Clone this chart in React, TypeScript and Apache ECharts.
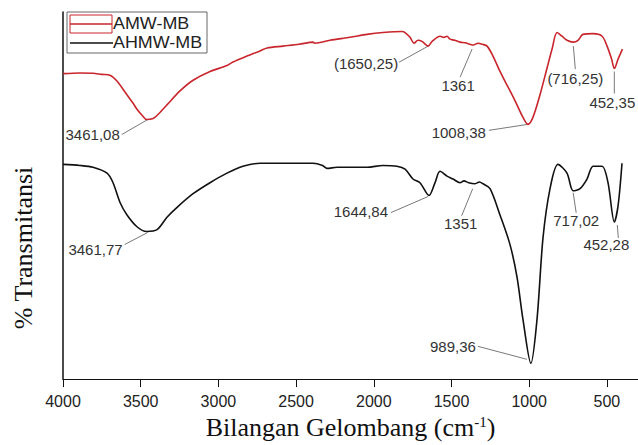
import React, { useEffect, useRef } from "react";
import * as echarts from "echarts";

// FTIR spectra: wavenumber (cm-1) and relative transmittance (%)
const amwWave = [
  4000, 3891, 3807, 3750, 3698, 3653, 3601, 3550, 3524, 3490, 3461.08, 3420, 3395, 3331, 3247, 3163, 3054,
  2945, 2906, 2816, 2732, 2687, 2584, 2480, 2391, 2380, 2282, 2153, 2044, 1941, 1818, 1799, 1767, 1741,
  1716, 1690, 1650.25, 1625, 1574, 1550, 1529, 1510, 1480, 1445, 1410, 1381, 1361, 1329, 1300, 1271, 1233,
  1188, 1143, 1091, 1046, 1008.38, 976, 931, 886, 853, 821, 789, 757, 716.25, 686, 654, 589, 531, 499, 470,
  452.35, 428, 400,
];
const amwT = [
  83.2, 83.4, 83.3, 83.0, 82.8, 81.2, 78.2, 75.2, 73.5, 71.8, 70.7, 71.0, 71.8, 74.7, 78.5, 81.4, 83.8,
  85.4, 86.4, 88.0, 89.4, 90.2, 90.7, 91.2, 91.8, 91.5, 92.3, 93.1, 93.9, 94.4, 94.7, 94.4, 93.1, 91.5,
  92.3, 92.0, 90.7, 92.0, 93.4, 93.1, 93.4, 92.6, 92.3, 91.8, 91.6, 91.2, 91.0, 91.5, 91.2, 90.7, 88.0,
  83.8, 80.1, 75.8, 71.8, 69.4, 71.3, 77.4, 84.6, 89.9, 94.4, 93.4, 92.3, 91.8, 92.3, 93.9, 94.1, 93.4, 90.7, 87.2,
  84.6, 87.2, 89.9,
];

const ahmwWave = [
  4000, 3891, 3807, 3717, 3678, 3633, 3588, 3524, 3461.77, 3395, 3331, 3266, 3163, 3054, 2945, 2842, 2732,
  2584, 2391, 2330, 2301, 2237, 2044, 1941, 1851, 1799, 1748, 1703, 1644.84, 1606, 1574, 1529, 1490, 1445,
  1420, 1390, 1351, 1320, 1297, 1252, 1188, 1124, 1079, 1040, 989.36, 950, 911, 866, 815, 757, 717.02, 673,
  628, 589, 531, 493, 452.28, 428, 403,
];
const ahmwT = [
  58.5, 58.2, 57.7, 56.1, 53.5, 48.1, 44.7, 41.5, 40.2, 40.7, 44.1, 46.8, 50.5, 53.5, 56.1, 58.0, 58.8,
  58.8, 58.8, 58.2, 57.4, 57.7, 57.7, 58.2, 58.0, 57.2, 54.5, 53.5, 50.0, 53.5, 56.6, 55.3, 54.5, 53.5,
  54.0, 53.5, 53.2, 53.7, 53.2, 51.9, 44.7, 36.7, 27.9, 16.2, 4.3, 16.2, 38.6, 51.9, 58.5, 56.1, 51.3, 51.9,
  54.5, 58.0, 58.0, 53.5, 42.8, 47.3, 58.8,
];

// Labelled bands
const amwPeaks = [3461.08, 1650.25, 1361, 1008.38, 716.25, 452.35];
const amwPeakLabels = ["3461,08", "(1650,25)", "1361", "1008,38", "(716,25)", "452,35"];
const ahmwPeaks = [3461.77, 1644.84, 1351, 989.36, 717.02, 452.28];
const ahmwPeakLabels = ["3461,77", "1644,84", "1351", "989,36", "717,02", "452,28"];

const xTicks = [4000, 3500, 3000, 2500, 2000, 1500, 1000, 500];
const seriesNames = ["AMW-MB", "AHMW-MB"];
const yTitle = "% Transmitansi";

const RED = "#c8252c";
const SANS = "'Liberation Sans', Arial, sans-serif";
const SERIF = "'Liberation Serif', 'Times New Roman', serif";

type Note = { a: number[]; b: number[]; t: number[]; al: string };

// leader-line start/end and label anchor, relative to the band's point (px)
const amwNoteLayout: Note[] = [
  { a: [1, 0], b: [-25, 15], t: [-27, 15], al: "right" },
  { a: [0, 0], b: [-29, 16], t: [-30, 17], al: "right" },
  { a: [-1, 4], b: [-13, 32], t: [-15, 40], al: "center" },
  { a: [0, 0], b: [-39, 6], t: [-42, 8], al: "right" },
  { a: [0, 4], b: [2, 27], t: [2, 36], al: "center" },
  { a: [0, 3], b: [0, 25], t: [-2, 34], al: "center" },
];
const ahmwNoteLayout: Note[] = [
  { a: [1, 1], b: [-22, 13], t: [-24, 18], al: "right" },
  { a: [-1, 1], b: [-38, 17], t: [-41, 16], al: "right" },
  { a: [-2, 5], b: [-13, 32], t: [-14, 40], al: "center" },
  { a: [-4, -4], b: [-53, -17], t: [-55, -17], al: "right" },
  { a: [0, 2], b: [3, 22], t: [3, 30], al: "center" },
  { a: [3, 3], b: [4, 16], t: [-8, 23], al: "center" },
];

const zip = (w: number[], t: number[]) => w.map((x, i) => [x, t[i]]);

export default function App() {
  const ref = useRef<HTMLDivElement>(null);

  useEffect(() => {
    if (!ref.current) return;
    const chart = echarts.init(ref.current, null, { renderer: "svg" });

    chart.setOption({
      animation: false,
      grid: { left: 63, right: 0, top: 12, bottom: 57 },
      xAxis: {
        type: "value",
        inverse: true,
        min: 300,
        max: 4000,
        name: "Bilangan Gelombang (cm{sup|-1})",
        nameLocation: "middle",
        nameGap: 27,
        nameTextStyle: {
          fontFamily: SERIF,
          fontSize: 26,
          color: "#111",
          rich: { sup: { fontFamily: SERIF, fontSize: 15, verticalAlign: "top", color: "#111" } },
        },
        axisLine: { show: true, lineStyle: { color: "#111", width: 1 } },
        axisTick: { show: true, length: 8, customValues: xTicks, lineStyle: { color: "#111" } },
        axisLabel: {
          show: true,
          customValues: xTicks,
          formatter: (v: number) => String(v),
          fontSize: 16,
          fontFamily: SANS,
          color: "#222",
          margin: 14,
        },
        splitLine: { show: false },
      },
      yAxis: {
        type: "value",
        min: 0,
        max: 100,
        axisLine: { show: true, lineStyle: { color: "#111", width: 1.5 } },
        axisTick: { show: false },
        axisLabel: { show: false },
        splitLine: { show: false },
      },
      series: [
        {
          name: seriesNames[0],
          type: "line",
          data: zip(amwWave, amwT),
          showSymbol: false,
          smooth: 0.3,
          lineStyle: { color: RED, width: 1.6 },
          itemStyle: { color: RED },
        },
        {
          name: seriesNames[1],
          type: "line",
          data: zip(ahmwWave, ahmwT),
          showSymbol: false,
          smooth: 0.3,
          lineStyle: { color: "#111", width: 1.6 },
          itemStyle: { color: "#111" },
        },
      ],
    });

    const elements: any[] = [];
    const addNotes = (waves: number[], ts: number[], peaks: number[], labels: string[], layout: Note[]) => {
      peaks.forEach((wn, i) => {
        const t = ts[waves.indexOf(wn)];
        const [px, py] = chart.convertToPixel({ gridIndex: 0 }, [wn, t]) as number[];
        const L = layout[i];
        elements.push({
          type: "line",
          shape: { x1: px + L.a[0], y1: py + L.a[1], x2: px + L.b[0], y2: py + L.b[1] },
          style: { stroke: "#555", lineWidth: 0.8 },
        });
        elements.push({
          type: "text",
          x: px + L.t[0],
          y: py + L.t[1],
          style: {
            text: labels[i],
            align: L.al,
            verticalAlign: "middle",
            fontSize: 15,
            fontFamily: SANS,
            fill: "#333",
          },
        });
      });
    };
    addNotes(amwWave, amwT, amwPeaks, amwPeakLabels, amwNoteLayout);
    addNotes(ahmwWave, ahmwT, ahmwPeaks, ahmwPeakLabels, ahmwNoteLayout);

    // y-axis title, set a little below the plot's middle
    elements.push({
      type: "text",
      x: 23,
      y: 248,
      rotation: Math.PI / 2,
      style: { text: yTitle, fontSize: 26, fontFamily: SERIF, fill: "#111", align: "center", verticalAlign: "middle" },
    });

    // legend box
    elements.push(
      { type: "rect", shape: { x: 67, y: 12, width: 140, height: 41 }, style: { fill: "#fff", stroke: "#666", lineWidth: 1 } },
      { type: "rect", shape: { x: 70, y: 15, width: 42, height: 18 }, style: { fill: "none", stroke: RED, lineWidth: 1 } },
      { type: "line", shape: { x1: 70, y1: 24, x2: 112, y2: 24 }, style: { stroke: RED, lineWidth: 1.6 } },
      { type: "line", shape: { x1: 70, y1: 43, x2: 113, y2: 43 }, style: { stroke: "#111", lineWidth: 1.6 } },
      {
        type: "text", x: 113, y: 24, scaleX: 1.12,
        style: { text: seriesNames[0], fontSize: 16, fontFamily: SANS, fill: "#222", align: "left", verticalAlign: "middle" },
      },
      {
        type: "text", x: 113, y: 43, scaleX: 1.12,
        style: { text: seriesNames[1], fontSize: 16, fontFamily: SANS, fill: "#222", align: "left", verticalAlign: "middle" },
      },
    );

    chart.setOption({ graphic: elements });

    return () => chart.dispose();
  }, []);

  return (
    <div
      ref={ref}
      style={{ position: "absolute", left: 0, top: 0, width: 638, height: 445, background: "#fff" }}
    />
  );
}
